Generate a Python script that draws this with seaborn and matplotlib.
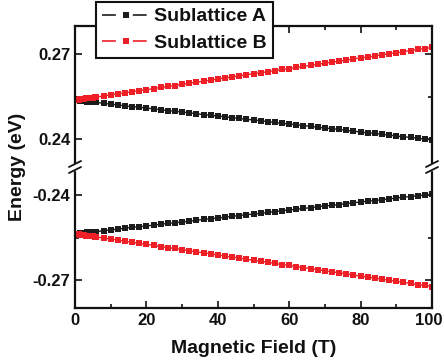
import matplotlib
matplotlib.use("Agg")
import matplotlib.pyplot as plt
from matplotlib.lines import Line2D
from matplotlib.ticker import FixedLocator
from matplotlib.transforms import ScaledTranslation
import seaborn as sns

# ---------------- data ----------------
field = [0, 0.5, 1, 1.5, 2, 2.5, 3, 3.5, 4, 4.5, 5, 5.5,
         6, 8, 10, 12, 14, 16, 18, 20, 22, 24, 26, 28, 30, 32, 34, 36, 38, 40,
         42, 44, 46, 48, 50, 52, 54, 56, 58, 60, 62, 64, 66, 68, 70, 72, 74, 76,
         78, 80, 82, 84, 86, 88, 90, 92, 94, 96, 98, 100]

a_upper = [0.2537, 0.2536, 0.2536, 0.2535, 0.2534, 0.2534, 0.2533, 0.2532, 0.2531, 0.2531, 0.2530, 0.2529,
           0.2529, 0.2526, 0.2523, 0.2520, 0.2517, 0.2514, 0.2512, 0.2509, 0.2506, 0.2503, 0.2500, 0.2498,
           0.2495, 0.2492, 0.2489, 0.2486, 0.2483, 0.2481, 0.2478, 0.2475, 0.2472, 0.2469, 0.2467, 0.2464,
           0.2461, 0.2458, 0.2455, 0.2452, 0.2450, 0.2447, 0.2444, 0.2441, 0.2438, 0.2436, 0.2433, 0.2430,
           0.2427, 0.2424, 0.2421, 0.2419, 0.2416, 0.2413, 0.2410, 0.2407, 0.2405, 0.2402, 0.2399, 0.2396]

b_upper = [0.2537, 0.2538, 0.2539, 0.2540, 0.2541, 0.2542, 0.2543, 0.2544, 0.2545, 0.2545, 0.2546, 0.2547,
           0.2548, 0.2552, 0.2556, 0.2559, 0.2563, 0.2567, 0.2571, 0.2574, 0.2578, 0.2582, 0.2586, 0.2589,
           0.2593, 0.2597, 0.2601, 0.2604, 0.2608, 0.2612, 0.2616, 0.2619, 0.2623, 0.2627, 0.2631, 0.2634,
           0.2638, 0.2642, 0.2646, 0.2649, 0.2653, 0.2657, 0.2660, 0.2664, 0.2668, 0.2672, 0.2675, 0.2679,
           0.2683, 0.2687, 0.2690, 0.2694, 0.2698, 0.2702, 0.2705, 0.2709, 0.2713, 0.2717, 0.2720, 0.2724]

a_lower = [-0.2537, -0.2536, -0.2536, -0.2535, -0.2534, -0.2534, -0.2533, -0.2532, -0.2531, -0.2531, -0.2530, -0.2529,
           -0.2529, -0.2526, -0.2523, -0.2520, -0.2517, -0.2514, -0.2512, -0.2509, -0.2506, -0.2503, -0.2500, -0.2498,
           -0.2495, -0.2492, -0.2489, -0.2486, -0.2483, -0.2481, -0.2478, -0.2475, -0.2472, -0.2469, -0.2467, -0.2464,
           -0.2461, -0.2458, -0.2455, -0.2452, -0.2450, -0.2447, -0.2444, -0.2441, -0.2438, -0.2436, -0.2433, -0.2430,
           -0.2427, -0.2424, -0.2421, -0.2419, -0.2416, -0.2413, -0.2410, -0.2407, -0.2405, -0.2402, -0.2399, -0.2396]

b_lower = [-0.2537, -0.2538, -0.2539, -0.2540, -0.2541, -0.2542, -0.2543, -0.2544, -0.2545, -0.2545, -0.2546, -0.2547,
           -0.2548, -0.2552, -0.2556, -0.2559, -0.2563, -0.2567, -0.2571, -0.2574, -0.2578, -0.2582, -0.2586, -0.2589,
           -0.2593, -0.2597, -0.2601, -0.2604, -0.2608, -0.2612, -0.2616, -0.2619, -0.2623, -0.2627, -0.2631, -0.2634,
           -0.2638, -0.2642, -0.2646, -0.2649, -0.2653, -0.2657, -0.2660, -0.2664, -0.2668, -0.2672, -0.2675, -0.2679,
           -0.2683, -0.2687, -0.2690, -0.2694, -0.2698, -0.2702, -0.2705, -0.2709, -0.2713, -0.2717, -0.2720, -0.2724]

series_names = ["Sublattice A", "Sublattice B"]
x_ticks = [0, 20, 40, 60, 80, 100]
x_minor = [10, 30, 50, 70, 90]
y_ticks_top = [0.24, 0.27]
y_ticks_bottom = [-0.27, -0.24]

# ---------------- style ----------------
sns.set_theme(style="ticks")
plt.rcParams["font.family"] = ["Liberation Sans", "DejaVu Sans"]
plt.rcParams["font.weight"] = "bold"
plt.rcParams["axes.unicode_minus"] = False

BLACK = "#1c1c1c"
RED = "#ee1f26"
INK = "#111111"

W, H = 444, 363
fig = plt.figure(figsize=(W / 100, H / 100), dpi=100)

x0, x1 = 75, 432
ytop, ysplit, ybot = 26, 167, 308
ax_top = fig.add_axes([x0 / W, 1 - ysplit / H, (x1 - x0) / W, (ysplit - ytop) / H])
ax_bot = fig.add_axes([x0 / W, 1 - ybot / H, (x1 - x0) / W, (ybot - ysplit) / H])

line_kw = dict(marker="s", markersize=3.8, markeredgewidth=0, linewidth=1.0)
for ax, ya, yb in [(ax_top, a_upper, b_upper), (ax_bot, a_lower, b_lower)]:
    sns.lineplot(x=field, y=ya, ax=ax, color=BLACK, **line_kw)
    sns.lineplot(x=field, y=yb, ax=ax, color=RED, **line_kw)
    ax.set_xlim(0, 100)
    ax.xaxis.set_major_locator(FixedLocator(x_ticks))
    ax.xaxis.set_minor_locator(FixedLocator(x_minor))
    ax.tick_params(which="both", direction="in", top=True, right=True,
                   width=1.2, labelsize=12, colors=INK)
    ax.tick_params(which="major", length=5)
    ax.tick_params(which="minor", length=3)
    for s in ax.spines.values():
        s.set_linewidth(1.6)
        s.set_color(INK)

ax_top.set_ylim(0.23, 0.28)
ax_top.yaxis.set_major_locator(FixedLocator(y_ticks_top))
ax_top.yaxis.set_minor_locator(FixedLocator([0.255]))
ax_top.set_yticklabels(["0.24", "0.27"], fontweight="bold")
ax_top.spines["bottom"].set_visible(False)
ax_top.tick_params(which="both", bottom=False, labelbottom=False)

ax_bot.set_ylim(-0.28, -0.23)
ax_bot.yaxis.set_major_locator(FixedLocator(y_ticks_bottom))
ax_bot.yaxis.set_minor_locator(FixedLocator([-0.255]))
ax_bot.set_yticklabels(["-0.27", "-0.24"], fontweight="bold")
ax_bot.spines["top"].set_visible(False)
ax_bot.tick_params(which="both", top=False)
ax_bot.set_xticklabels([str(t) for t in x_ticks], fontweight="bold")
last = ax_bot.get_xticklabels()[-1]
last.set_transform(last.get_transform() + ScaledTranslation(-3 / 100, 0, fig.dpi_scale_trans))

ax_bot.set_xlabel("Magnetic Field (T)", fontsize=14, fontweight="bold", labelpad=9, color=INK)
fig.text(18 / W, 1 - 167 / H, "Energy (eV)", rotation=90, ha="center", va="center",
         fontsize=14, fontweight="bold", color=INK)

# break marks
for xp in (x0, x1):
    fig.patches.append(plt.Rectangle(((xp - 3) / W, 1 - (ysplit + 3) / H), 6 / W, 6 / H,
                                     transform=fig.transFigure, color="white", zorder=10))
    for dy in (-3, 3):
        fig.lines.append(Line2D([(xp - 6) / W, (xp + 6) / W],
                                [1 - (ysplit + dy + 3) / H, 1 - (ysplit + dy - 3) / H],
                                transform=fig.transFigure, color=INK, lw=1.3, zorder=11))

# legend
handles = [Line2D([], [], color=c, marker="s", markersize=4.5, markeredgewidth=0,
                  linewidth=1.2, dashes=(8.3, 10.2)) for c in (BLACK, RED)]
leg = ax_top.legend(handles, series_names, loc="upper left",
                    bbox_to_anchor=(96 / W, 1 - 2 / H), bbox_transform=fig.transFigure,
                    prop={"weight": "bold", "size": 14}, frameon=True, fancybox=False,
                    handlelength=2.45, handletextpad=0.25, borderpad=0.3, labelspacing=0.45,
                    borderaxespad=0)
leg.get_frame().set_edgecolor(INK)
leg.get_frame().set_linewidth(1.5)
leg.get_frame().set_facecolor("white")
leg.get_frame().set_alpha(1)
leg.set_zorder(20)
for t in leg.get_texts():
    t.set_color(INK)

fig.savefig("out.png", dpi=100)
